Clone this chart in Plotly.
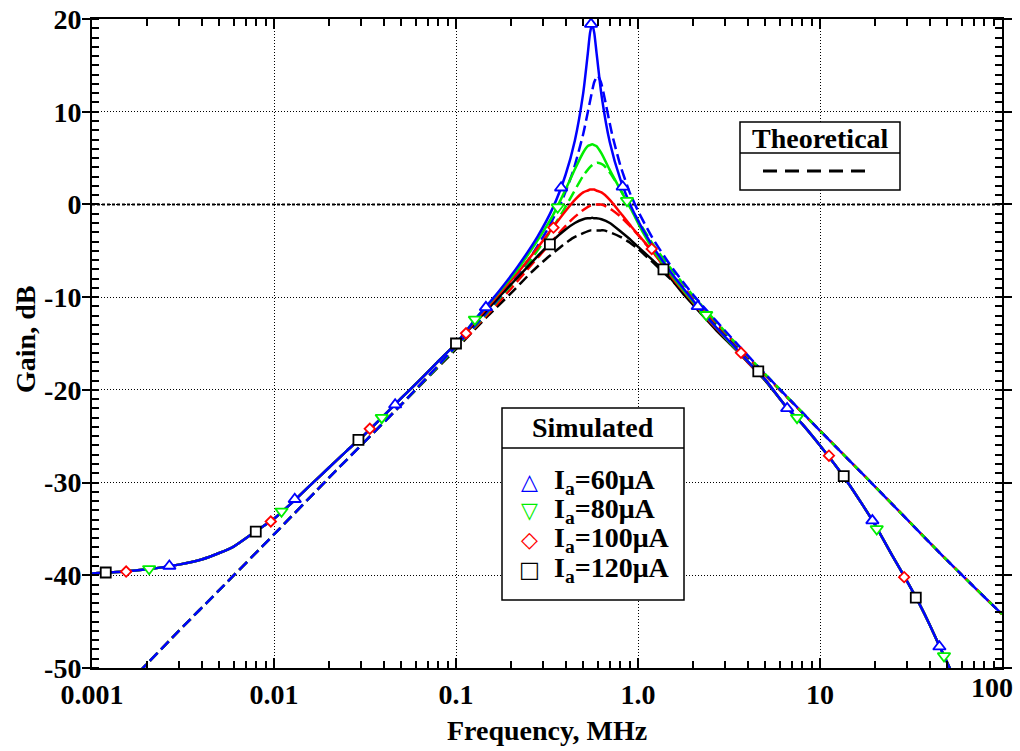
import plotly.graph_objects as go

# ---------------- data (frequency in MHz, gain in dB) ----------------
# Simulated responses: shared low-frequency and high-frequency portions
sim_freq_low = [0.001, 0.0015, 0.002, 0.003, 0.004, 0.005, 0.006, 0.008, 0.01, 0.013,
                0.016, 0.02, 0.025, 0.03, 0.04, 0.05, 0.065, 0.08, 0.1]
sim_gain_low = [-39.8, -39.6, -39.35, -38.85, -38.3, -37.6, -36.9, -35.2, -33.9, -31.9,
                -30.2, -28.4, -26.6, -25.2, -22.8, -20.9, -18.7, -16.9, -15.0]

sim_freq_mid = [0.13, 0.17, 0.22, 0.28, 0.34, 0.4, 0.45, 0.5, 0.53, 0.545, 0.56, 0.575,
                0.59, 0.63, 0.7, 0.8, 0.92, 1.07, 1.25, 1.5, 1.8, 2.2, 2.7, 3.3, 4.0, 5.0]
sim_gain_60 = [-12.2, -9.5, -6.6, -3.5, -0.4, 3.2, 6.9, 12.0, 16.3, 18.5, 19.5, 18.5,
               16.6, 11.8, 6.7, 2.7, -0.3, -2.8, -5.0, -7.2, -9.2, -11.3, -13.3, -15.1, -16.9, -18.9]
sim_gain_80 = [-12.2, -9.6, -6.9, -3.9, -1.2, 1.6, 3.8, 5.6, 6.3, 6.4, 6.5, 6.4,
               6.3, 5.5, 3.7, 1.6, -0.6, -3.1, -5.3, -7.4, -9.4, -11.4, -13.3, -15.2, -16.9, -18.9]
sim_gain_100 = [-12.4, -9.8, -7.3, -4.7, -2.5, -0.7, 0.5, 1.3, 1.5, 1.6, 1.6, 1.6,
                1.5, 1.3, 0.5, -0.9, -2.4, -3.9, -5.5, -7.6, -9.5, -11.5, -13.4, -15.2, -17.0, -18.9]
sim_gain_120 = [-12.6, -10.1, -7.8, -5.6, -3.9, -2.7, -2.0, -1.6, -1.5, -1.5, -1.45, -1.5,
                -1.5, -1.6, -2.0, -2.9, -3.9, -5.1, -6.3, -7.9, -9.8, -11.7, -13.6, -15.3, -17.0, -19.0]

sim_freq_high = [6.5, 8, 10, 12, 14, 17, 20, 25, 30, 35, 40, 45, 50, 53]
sim_gain_high = [-21.8, -23.7, -26.0, -28.0, -29.8, -32.3, -34.5, -37.9, -40.6, -43.0,
                 -45.3, -47.5, -49.4, -50.5]

# Theoretical responses
theo_freq_low = [0.0018, 0.003, 0.005, 0.01, 0.02, 0.05]
theo_gain_low = [-50.5, -46.0, -41.6, -35.6, -29.5, -21.6]

theo_freq_mid = [0.1, 0.15, 0.2, 0.26, 0.32, 0.38, 0.44, 0.5, 0.55, 0.575, 0.6, 0.625,
                 0.65, 0.72, 0.8, 0.9, 1.0, 1.2, 1.5, 2.0, 3.0, 5.0]
theo_gain_60 = [-15.3, -11.5, -8.5, -5.5, -2.6, 0.3, 3.6, 7.6, 11.5, 13.2, 13.9, 13.2,
                11.8, 7.6, 4.2, 1.3, -0.7, -3.6, -6.5, -9.7, -13.6, -18.3]
theo_gain_80 = [-15.4, -11.6, -8.7, -5.9, -3.3, -1.0, 1.2, 3.1, 4.1, 4.4, 4.5, 4.4,
                4.2, 3.1, 1.6, -0.2, -1.7, -4.2, -6.8, -9.8, -13.7, -18.3]
theo_gain_100 = [-15.4, -11.8, -9.1, -6.5, -4.5, -2.8, -1.5, -0.6, -0.1, 0.0, 0.0, 0.0,
                 -0.1, -0.6, -1.3, -2.3, -3.3, -5.1, -7.3, -10.1, -13.8, -18.4]
theo_gain_120 = [-15.6, -12.0, -9.6, -7.3, -5.7, -4.5, -3.6, -3.1, -2.8, -2.8, -2.8, -2.8,
                 -2.8, -3.1, -3.5, -4.1, -4.8, -6.2, -8.0, -10.5, -14.0, -18.4]

theo_freq_high = [10, 20, 50, 100]
theo_gain_high = [-24.4, -30.4, -38.4, -44.2]

# Simulated marker points
mk_freq_60 = [0.00266, 0.013, 0.0463, 0.146, 0.378, 0.552, 0.824, 2.13, 6.6, 19.4, 45.3]
mk_gain_60 = [-39.0, -31.8, -21.6, -11.1, 1.8, 19.45, 1.9, -11.0, -22.0, -34.1, -47.7]
mk_freq_80 = [0.00206, 0.011, 0.0391, 0.127, 0.362, 0.87, 2.37, 7.48, 20.5, 48]
mk_gain_80 = [-39.3, -33.1, -23.0, -12.4, -0.3, 0.4, -11.9, -23.0, -35.0, -48.7]
mk_freq_100 = [0.00154, 0.0096, 0.0336, 0.1135, 0.343, 1.19, 3.68, 11.2, 29.0]
mk_gain_100 = [-39.6, -34.2, -24.2, -13.9, -2.5, -4.8, -16.0, -27.1, -40.2]
mk_freq_120 = [0.00119, 0.00794, 0.0291, 0.1, 0.328, 1.38, 4.58, 13.5, 33.6]
mk_gain_120 = [-39.7, -35.3, -25.4, -15.0, -4.3, -7.0, -18.0, -29.3, -42.4]

series_labels = ["I<sub>a</sub>=60\u03bcA", "I<sub>a</sub>=80\u03bcA",
                 "I<sub>a</sub>=100\u03bcA", "I<sub>a</sub>=120\u03bcA"]
x_tick_vals = [0.001, 0.01, 0.1, 1, 10, 100]
x_tick_text = ["0.001", "0.01", "0.1", "1.0", "10", "100"]
y_tick_vals = [20, 10, 0, -10, -20, -30, -40, -50]
y_tick_text = ["20", "10", "0", "-10", "-20", "-30", "-40", "-50"]

# ---------------- styling ----------------
colors = ["#0000ff", "#00ee00", "#ff0000", "#000000"]
symbols = ["triangle-up", "triangle-down", "diamond", "square"]
sizes = [11, 11, 8, 10]
glyphs = ["\u25b3", "\u25bd", "\u25c7", "\u25a1"]
FONT = "Liberation Serif"
TICK_FONT = dict(family=FONT, size=28, color="black", weight="bold")

sim_mid = [sim_gain_60, sim_gain_80, sim_gain_100, sim_gain_120]
theo_mid = [theo_gain_60, theo_gain_80, theo_gain_100, theo_gain_120]
markers = [(mk_freq_60, mk_gain_60), (mk_freq_80, mk_gain_80),
           (mk_freq_100, mk_gain_100), (mk_freq_120, mk_gain_120)]

fig = go.Figure()
order = [3, 2, 1, 0]  # draw black first, blue on top

for i in order:
    fig.add_trace(go.Scatter(
        x=theo_freq_low + theo_freq_mid + theo_freq_high,
        y=theo_gain_low + theo_mid[i] + theo_gain_high,
        mode="lines", line=dict(color=colors[i], width=2.5, dash="11px,5px",
                                shape="spline", smoothing=0.6),
        showlegend=False, hoverinfo="skip"))

for i in order:
    fig.add_trace(go.Scatter(
        x=sim_freq_low + sim_freq_mid + sim_freq_high,
        y=sim_gain_low + sim_mid[i] + sim_gain_high,
        mode="lines", line=dict(color=colors[i], width=2.5, shape="spline", smoothing=0.6),
        showlegend=False, hoverinfo="skip"))

for i in order:
    fx, fy = markers[i]
    fig.add_trace(go.Scatter(
        x=fx, y=fy, mode="markers",
        marker=dict(symbol=symbols[i], size=sizes[i], color="white",
                    line=dict(color=colors[i], width=1.8)),
        showlegend=False, hoverinfo="skip"))

# plot-area geometry in pixels
L, R, T, B = 92, 1002, 19, 668
W, H = 1020, 751


def px(x):
    return (x - L) / (R - L)


def py(y):
    return (B - y) / (B - T)


shapes = []
annotations = []

# emphasised 0 dB reference line
shapes.append(dict(type="line", xref="paper", yref="y", x0=0, x1=1, y0=0, y1=0,
                   line=dict(color="black", width=2, dash="3px,2px"), layer="below"))

# "Theoretical" key box
shapes.append(dict(type="rect", xref="paper", yref="paper", x0=px(740), x1=px(900),
                   y0=py(190), y1=py(122), line=dict(color="black", width=1.5),
                   fillcolor="white", layer="above"))
shapes.append(dict(type="line", xref="paper", yref="paper", x0=px(740), x1=px(900),
                   y0=py(153), y1=py(153), line=dict(color="black", width=1.5)))
shapes.append(dict(type="line", xref="paper", yref="paper", x0=px(763), x1=px(873),
                   y0=py(171), y1=py(171), line=dict(color="black", width=3, dash="14px,8px")))
annotations.append(dict(xref="paper", yref="paper", x=px(820), y=py(138), text="Theoretical",
                        showarrow=False, xanchor="center", yanchor="middle",
                        font=dict(family=FONT, size=28, color="black", weight="bold")))

# "Simulated" key box
shapes.append(dict(type="rect", xref="paper", yref="paper", x0=px(502), x1=px(684),
                   y0=py(600), y1=py(408), line=dict(color="black", width=1.5),
                   fillcolor="white", layer="above"))
shapes.append(dict(type="line", xref="paper", yref="paper", x0=px(502), x1=px(684),
                   y0=py(448), y1=py(448), line=dict(color="black", width=1.5)))
annotations.append(dict(xref="paper", yref="paper", x=px(593), y=py(428), text="Simulated",
                        showarrow=False, xanchor="center", yanchor="middle",
                        font=dict(family=FONT, size=28, color="black", weight="bold")))
row_y = [481, 510, 539, 569]
for i in range(4):
    annotations.append(dict(xref="paper", yref="paper", x=px(529), y=py(row_y[i]),
                            text=glyphs[i], showarrow=False, xanchor="center",
                            yanchor="middle",
                            font=dict(family="DejaVu Sans", size=22, color=colors[i])))
    annotations.append(dict(xref="paper", yref="paper", x=px(552), y=py(row_y[i]),
                            text=series_labels[i], showarrow=False, xanchor="left",
                            yanchor="middle",
                            font=dict(family=FONT, size=28, color="black", weight="bold")))

# last decade label kept inside the page edge
annotations.append(dict(xref="paper", yref="paper", x=1.0, y=py(687), xshift=13,
                        text=x_tick_text[-1], showarrow=False, xanchor="right",
                        yanchor="middle", font=TICK_FONT))

# axis titles
annotations.append(dict(xref="paper", yref="paper", x=0.5, y=py(730), text="Frequency, MHz",
                        showarrow=False, xanchor="center", yanchor="middle",
                        font=dict(family=FONT, size=28, color="black", weight="bold")))
annotations.append(dict(xref="paper", yref="paper", x=px(25), y=py(340), text="Gain, dB",
                        showarrow=False, xanchor="center", yanchor="middle", textangle=-90,
                        font=dict(family=FONT, size=28, color="black", weight="bold")))

minor_x = [k * 10 ** e for e in range(-3, 2) for k in range(2, 10)]

axis_common = dict(showline=True, linewidth=2, linecolor="black", mirror="allticks",
                   showgrid=True, gridcolor="black", gridwidth=1, griddash="1px,2px",
                   zeroline=False, tickcolor="black", tickwidth=1.5, tickfont=TICK_FONT)

fig.update_layout(
    width=W, height=H, autosize=False,
    margin=dict(l=L, r=W - R, t=T, b=H - B, pad=0),
    paper_bgcolor="white", plot_bgcolor="white",
    showlegend=False,
    shapes=shapes, annotations=annotations,
    xaxis=dict(type="log", range=[-3, 2], tickmode="array", tickvals=x_tick_vals[:-1],
               ticktext=x_tick_text[:-1], ticks="inside", ticklen=10, automargin=False,
               minor=dict(tickmode="array", tickvals=minor_x, ticks="inside", ticklen=7,
                          tickcolor="black", tickwidth=1.5, showgrid=False),
               **axis_common),
    yaxis=dict(range=[-50, 20], tickmode="array", tickvals=y_tick_vals, ticktext=y_tick_text,
               ticks="outside", ticklen=8, ticklabelstandoff=-5, automargin=False,
               minor=dict(dtick=1, ticks="inside", ticklen=7, tickcolor="black",
                          tickwidth=1.5, showgrid=False),
               **axis_common),
)

fig.write_html("out.html", config={"displayModeBar": False})
